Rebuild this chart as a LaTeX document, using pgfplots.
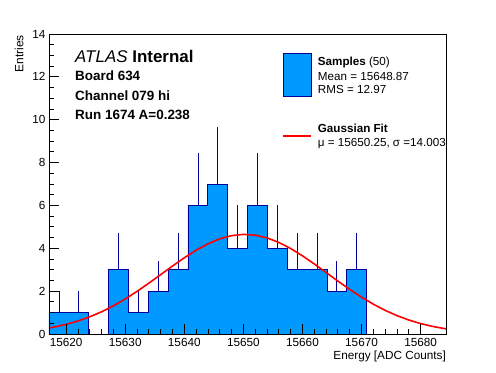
\documentclass[border=0pt]{standalone}
\usepackage{pgfplots}
\pgfplotsset{compat=1.18}
\usepackage{fontspec}
\setmainfont{Liberation Sans}
\definecolor{hfill}{RGB}{0,153,255}
\definecolor{hline}{RGB}{0,0,153}
\begin{document}
\begin{tikzpicture}[x=1bp,y=1bp]
\path[use as bounding box] (-49,-38) rectangle (447,334);
\begin{axis}[at={(0,0)}, anchor=south west, scale only axis, width=397bp, height=300bp,
 xmin=15617.1, xmax=15684.3, ymin=0, ymax=14,
 xtick={15620,15630,15640,15650,15660,15670,15680}, minor x tick num=4,
 ytick={0,2,4,6,8,10,12,14}, minor y tick num=3,
 tick align=inside, xtick pos=bottom, ytick pos=left,
 major tick length=10bp, minor tick length=5bp,
 axis on top,
 axis line style={line width=0.8pt},
 every tick/.style={black, line width=0.8pt},
 tick label style={font=\fontsize{11.8}{13}\selectfont},
 /pgf/number format/assume math mode=true,
 /pgf/number format/1000 sep={},
 scaled x ticks=false,
 xticklabel style={yshift=-1bp},
 ]
% histogram (bin width 3.36)
\addplot[const plot, fill=hfill, draw=hline, line width=0.8pt] coordinates {
(15617.10,1) (15620.46,1) (15623.82,0) (15627.18,3) (15630.54,1) (15633.90,2)
(15637.26,3) (15640.62,6) (15643.98,7) (15647.34,4) (15650.70,6) (15654.06,4)
(15657.42,3) (15660.78,3) (15664.14,2) (15667.50,3) (15670.86,0)
} \closedcycle;
% error bars
\addplot[draw=none, mark=none, error bars/.cd, y dir=plus, y explicit, error mark=none,
 error bar style={draw=hline, line width=0.7pt}] coordinates {
(15618.78,1) +- (0,1)
(15622.14,1) +- (0,1)
(15628.86,3) +- (0,1.732)
(15632.22,1) +- (0,1)
(15635.58,2) +- (0,1.414)
(15638.94,3) +- (0,1.732)
(15642.30,6) +- (0,2.449)
(15645.66,7) +- (0,2.646)
(15649.02,4) +- (0,2)
(15652.38,6) +- (0,2.449)
(15655.74,4) +- (0,2)
(15659.10,3) +- (0,1.732)
(15662.46,3) +- (0,1.732)
(15665.82,2) +- (0,1.414)
(15669.18,3) +- (0,1.732)
};
% gaussian fit curve
\addplot[red, line width=1.6pt] coordinates {
(15617.1,0.282) (15618,0.328) (15620,0.451) (15622,0.608) (15624,0.803) (15626,1.038)
(15628,1.316) (15630,1.634) (15632,1.989) (15634,2.372) (15636,2.770) (15638,3.172)
(15640,3.557) (15642,3.909) (15644,4.209) (15646,4.441) (15648,4.591) (15650,4.649)
(15652,4.614) (15654,4.486) (15656,4.274) (15658,3.990) (15660,3.649) (15662,3.270)
(15664,2.871) (15666,2.470) (15668,2.082) (15670,1.720) (15672,1.392) (15674,1.103)
(15676,0.857) (15678,0.653) (15680,0.487) (15682,0.356) (15684,0.255) (15684.3,0.242)
};
\end{axis}
% axis labels
\node[anchor=base east, inner sep=0, font=\fontsize{11.8}{13}\selectfont] at (397,-25) {Energy [ADC Counts]};
\node[anchor=base east, inner sep=0, rotate=90, font=\fontsize{12}{13}\selectfont] at (-25.7,299) {Entries};
% ATLAS text
\node[anchor=base west, inner sep=0, font=\fontsize{17}{19}\selectfont] at (26,272) {\textit{ATLAS} \textbf{Internal}};
\node[anchor=base west, inner sep=0, font=\bfseries\fontsize{13.5}{15}\selectfont] at (26,254) {Board 634};
\node[anchor=base west, inner sep=0, font=\bfseries\fontsize{13.5}{15}\selectfont] at (26,234) {Channel 079 hi};
\node[anchor=base west, inner sep=0, font=\bfseries\fontsize{13.5}{15}\selectfont] at (26,214.7) {Run 1674 A=0.238};
% legend
\draw[hline, fill=hfill, line width=0.8pt] (234,237.3) rectangle (262,281);
\node[anchor=base west, inner sep=0, font=\fontsize{11.7}{13}\selectfont] at (268.7,269) {\textbf{Samples} (50)};
\node[anchor=base west, inner sep=0, font=\fontsize{11.7}{13}\selectfont] at (268.7,254) {Mean = 15648.87};
\node[anchor=base west, inner sep=0, font=\fontsize{11.7}{13}\selectfont] at (268.7,240.7) {RMS = 12.97};
\draw[red, line width=1.6pt] (234,198) -- (262,198);
\node[anchor=base west, inner sep=0, font=\fontsize{11.7}{13}\selectfont] at (268.7,201.3) {\textbf{Gaussian Fit}};
\node[anchor=base west, inner sep=0, font=\fontsize{11.7}{13}\selectfont] at (268.7,188) {μ = 15650.25, σ =14.003};
\end{tikzpicture}
\end{document}
